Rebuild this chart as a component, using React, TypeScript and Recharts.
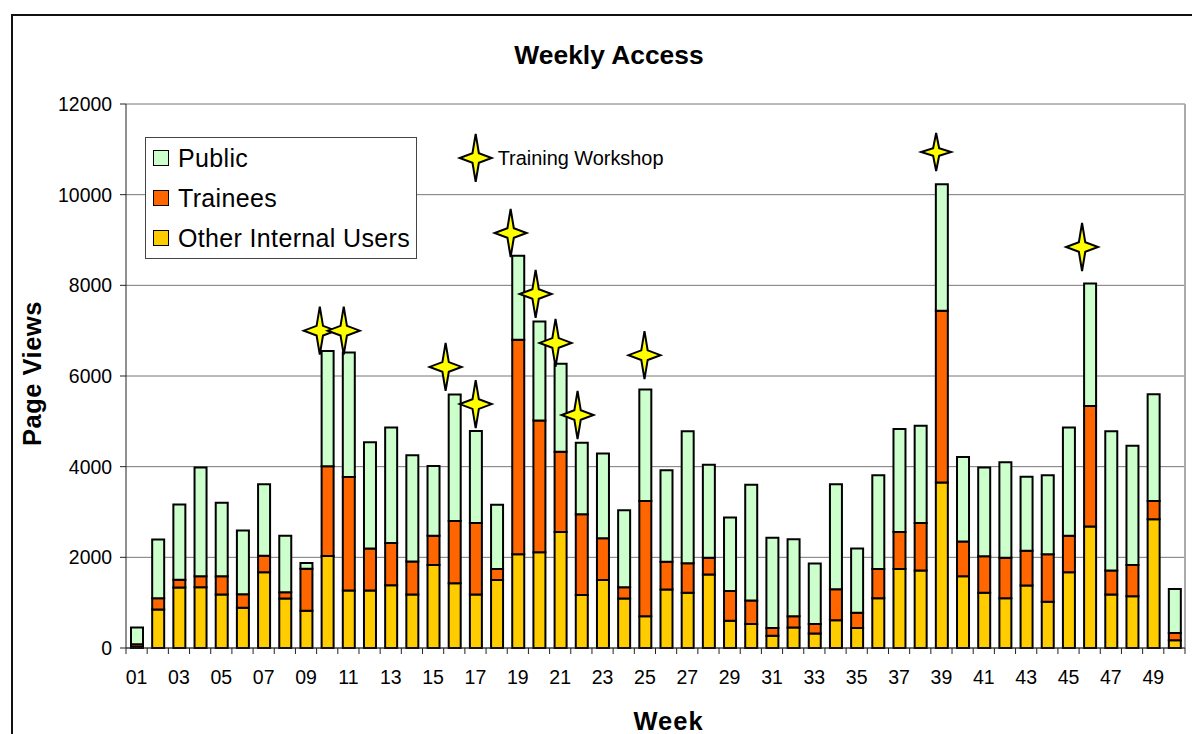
// Weekly Access: stacked page views per week, with training workshop markers.
import {
  ComposedChart,
  Bar,
  Scatter,
  XAxis,
  YAxis,
  CartesianGrid,
  ReferenceLine,
} from "recharts";

const weeks = [
  "01", "02", "03", "04", "05", "06", "07", "08", "09", "10",
  "11", "12", "13", "14", "15", "16", "17", "18", "19", "20",
  "21", "22", "23", "24", "25", "26", "27", "28", "29", "30",
  "31", "32", "33", "34", "35", "36", "37", "38", "39", "40",
  "41", "42", "43", "44", "45", "46", "47", "48", "49", "50",
];

const otherInternal = [
  30, 850, 1335, 1340, 1180, 890, 1670, 1090, 820, 2030,
  1270, 1270, 1385, 1180, 1830, 1430, 1180, 1500, 2070, 2110,
  2560, 1170, 1500, 1090, 700, 1290, 1220, 1620, 600, 530,
  270, 450, 320, 610, 440, 1100, 1740, 1710, 3650, 1580,
  1220, 1100, 1380, 1020, 1670, 2680, 1180, 1140, 2840, 170,
];

const trainees = [
  50, 250, 170, 245, 405, 295, 365, 140, 930, 1980,
  2500, 925, 930, 730, 645, 1370, 1575, 240, 4730, 2910,
  1770, 1780, 920, 250, 2540, 610, 650, 370, 660, 520,
  170, 250, 210, 685, 335, 640, 820, 1045, 3790, 770,
  805, 890, 765, 1050, 805, 2660, 530, 690, 405, 160,
];

const publicUsers = [
  370, 1295, 1660, 2395, 1620, 1405, 1575, 1245, 125, 2540,
  2750, 2345, 2550, 2340, 1540, 2790, 2030, 1420, 1850, 2180,
  1940, 1580, 1870, 1700, 2460, 2020, 2910, 2050, 1620, 2550,
  1990, 1700, 1335, 2315, 1420, 2070, 2270, 2150, 2790, 1865,
  1955, 2110, 1630, 1740, 2390, 2700, 3070, 2630, 2350, 970,
];

// marker positions on the 0..50 week scale
const starWeeks = [9.15, 10.28, 15.09, 16.51, 18.16, 19.34, 20.28, 21.32, 24.48, 45.14];
const starViews = [7000, 7000, 6200, 5380, 9155, 7810, 6730, 5140, 6460, 8845];
const smallStarWeeks = [38.25];
const smallStarViews = [10940];
const keyStarWeek = [16.51];
const keyStarViews = [10810];

const yTicks = [0, 2000, 4000, 6000, 8000, 10000, 12000];
const weekEdges = Array.from({ length: 51 }, (_, i) => i);

const data = weeks.map((week, i) => ({
  week,
  other: otherInternal[i],
  trainees: trainees[i],
  public: publicUsers[i],
}));
const stars = starWeeks.map((x, i) => ({ x, y: starViews[i] }));
const smallStars = smallStarWeeks.map((x, i) => ({ x, y: smallStarViews[i] }));
const keyStar = keyStarWeek.map((x, i) => ({ x, y: keyStarViews[i] }));

const FONT = "'Liberation Sans', Arial, sans-serif";

const legendItems = [
  { name: "Public", color: "#ccffcc" },
  { name: "Trainees", color: "#ff6600" },
  { name: "Other Internal Users", color: "#ffcc00" },
];

function starPath(cx: number, cy: number, rx: number, ry: number) {
  const k = 0.2;
  return (
    `M${cx} ${cy - ry}L${cx + rx * k} ${cy - ry * k}L${cx + rx} ${cy}` +
    `L${cx + rx * k} ${cy + ry * k}L${cx} ${cy + ry}L${cx - rx * k} ${cy + ry * k}` +
    `L${cx - rx} ${cy}L${cx - rx * k} ${cy - ry * k}Z`
  );
}

function Star({ cx, cy }: any) {
  return <path d={starPath(cx, cy, 16, 24)} fill="#ffff00" stroke="#000" strokeWidth={2} />;
}

function SmallStar({ cx, cy }: any) {
  return <path d={starPath(cx, cy, 15, 19)} fill="#ffff00" stroke="#000" strokeWidth={2} />;
}

function KeyStar({ cx, cy }: any) {
  return (
    <g>
      <path d={starPath(cx, cy, 16, 24)} fill="#ffff00" stroke="#000" strokeWidth={2} />
      <text x={cx + 22} y={cy + 7} fontSize={19.9} fontFamily={FONT} fill="#000">
        Training Workshop
      </text>
    </g>
  );
}

function LegendBox() {
  return (
    <div
      style={{
        position: "absolute",
        left: 145,
        top: 137,
        boxSizing: "border-box",
        width: 272,
        height: 122,
        background: "#fff",
        border: "1px solid #444",
        paddingLeft: 7,
        fontFamily: FONT,
        fontSize: 25,
        letterSpacing: 0.35,
        color: "#000",
      }}
    >
      {legendItems.map((item) => (
        <div key={item.name} style={{ display: "flex", alignItems: "center", height: 40, whiteSpace: "nowrap" }}>
          <span
            style={{
              boxSizing: "border-box",
              width: 16,
              height: 16,
              marginRight: 9,
              background: item.color,
              border: "1.5px solid #000",
            }}
          />
          {item.name}
        </div>
      ))}
    </div>
  );
}

export default function App() {
  return (
    <div style={{ position: "absolute", left: 0, top: 0, width: 1192, height: 734, overflow: "hidden", background: "#fff" }}>
      <div
        style={{
          position: "absolute",
          left: 11,
          top: 14,
          width: 1181,
          height: 720,
          borderLeft: "2px solid #111",
          borderTop: "2px solid #111",
        }}
      />
      <div
        style={{
          position: "absolute",
          left: 0,
          width: 1218,
          top: 40,
          textAlign: "center",
          fontFamily: FONT,
          fontWeight: "bold",
          fontSize: 26.4,
          color: "#000",
        }}
      >
        Weekly Access
      </div>
      <ComposedChart
        width={1192}
        height={734}
        data={data}
        margin={{ top: 104, right: 7, bottom: 0, left: 0 }}
        style={{ position: "absolute", left: 0, top: 0 }}
      >
        <CartesianGrid vertical={false} stroke="#777" strokeWidth={1} />
        <XAxis
          type="number"
          dataKey="x"
          domain={[0, 50]}
          ticks={weekEdges}
          interval={0}
          height={1}
          tickFormatter={() => ""}
          tickSize={6}
          stroke="#222"
        />
        <XAxis
          xAxisId="weeks"
          dataKey="week"
          interval={1}
          height={85}
          tickLine={false}
          axisLine={false}
          tickMargin={15}
          tick={{ fontSize: 19.5, fontFamily: FONT, fill: "#000" }}
          label={{
            value: "Week",
            position: "insideBottom",
            offset: 4,
            dx: 13,
            style: { fontSize: 25.5, fontWeight: "bold", fontFamily: FONT, fill: "#000", letterSpacing: 1 },
          }}
        />
        <YAxis
          width={126}
          domain={[0, 12000]}
          ticks={yTicks}
          stroke="#222"
          tickSize={6}
          tickMargin={8}
          tick={{ fontSize: 19.4, fontFamily: FONT, fill: "#000" }}
          label={{
            value: "Page Views",
            angle: -90,
            position: "insideLeft",
            dx: 27,
            dy: 70,
            style: { fontSize: 25.5, fontWeight: "bold", fontFamily: FONT, fill: "#000", letterSpacing: 0.5 },
          }}
        />
        <ReferenceLine x={50} stroke="#aaa" strokeWidth={2} />
        <Bar xAxisId="weeks" dataKey="other" stackId="a" barSize={12} fill="#ffcc00" stroke="#000" strokeWidth={2} isAnimationActive={false} />
        <Bar xAxisId="weeks" dataKey="trainees" stackId="a" barSize={12} fill="#ff6600" stroke="#000" strokeWidth={2} isAnimationActive={false} />
        <Bar xAxisId="weeks" dataKey="public" stackId="a" barSize={12} fill="#ccffcc" stroke="#000" strokeWidth={2} isAnimationActive={false} />
        <Scatter data={stars} dataKey="y" shape={<Star />} isAnimationActive={false} />
        <Scatter data={smallStars} dataKey="y" shape={<SmallStar />} isAnimationActive={false} />
        <Scatter data={keyStar} dataKey="y" shape={<KeyStar />} isAnimationActive={false} />
      </ComposedChart>
      <LegendBox />
    </div>
  );
}
